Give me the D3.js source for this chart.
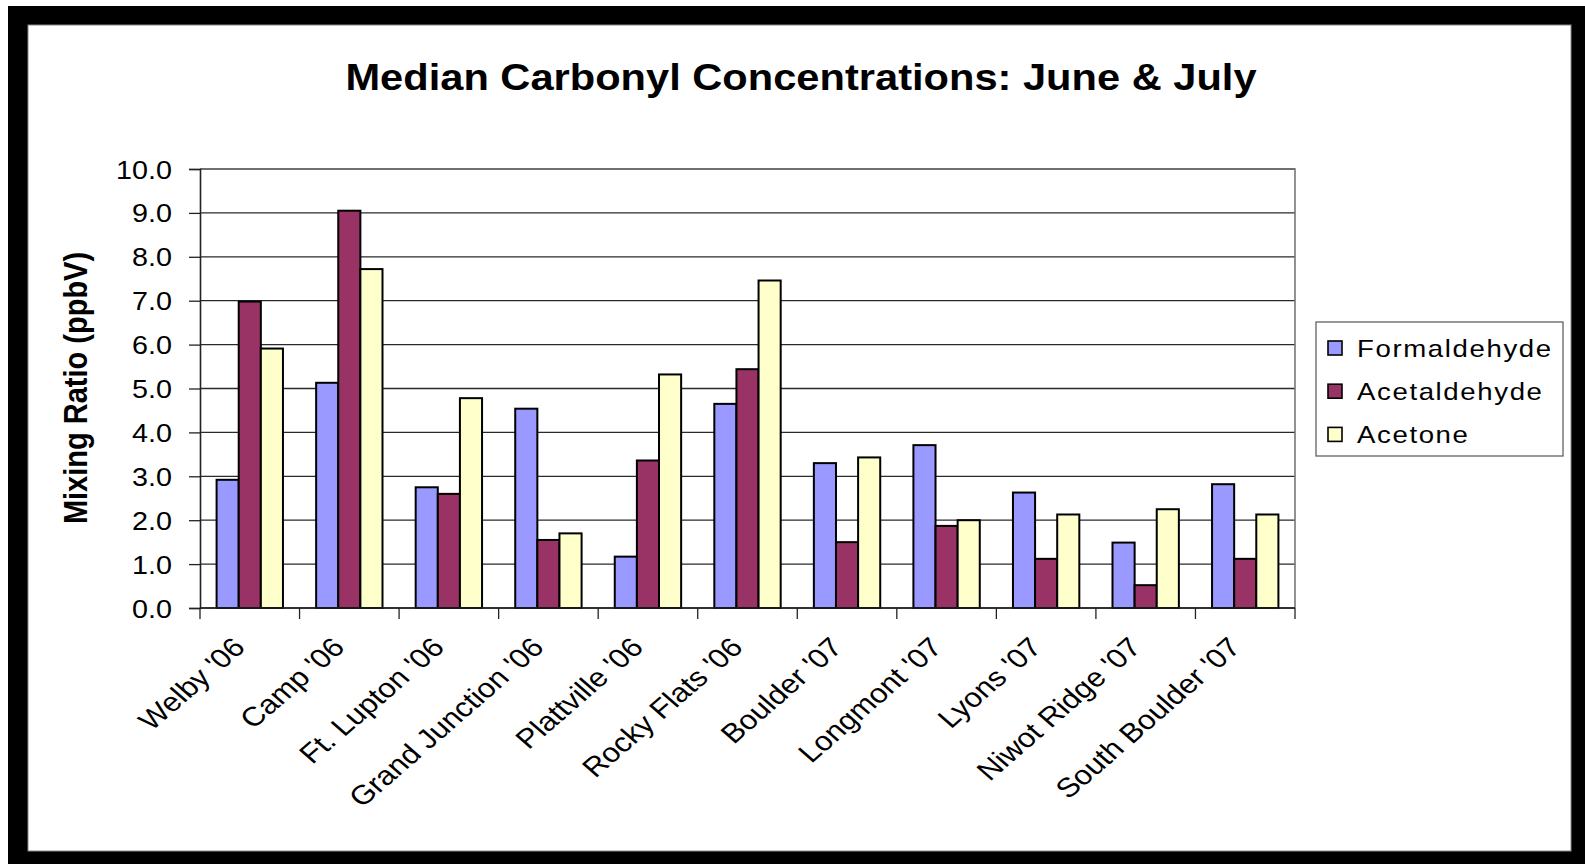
<!DOCTYPE html>
<html>
<head>
<meta charset="utf-8">
<script src="https://cdn.jsdelivr.net/npm/d3@7"></script>
<style>
  html, body { margin: 0; padding: 0; background: #ffffff; }
  svg { display: block; }
  text { font-family: "Liberation Sans", Arial, Helvetica, sans-serif; fill: #000; }
</style>
</head>
<body>
<svg id="chart" width="1585" height="864"></svg>
<script>
// Sampling sites (x categories)
const categories = [
  "Welby '06", "Camp '06", "Ft. Lupton '06", "Grand Junction '06", "Plattville '06",
  "Rocky Flats '06", "Boulder '07", "Longmont '07", "Lyons '07", "Niwot Ridge '07",
  "South Boulder '07"
];

// Median mixing ratios (ppbV) per compound
const formaldehyde = [2.92, 5.13, 2.75, 4.54, 1.17, 4.65, 3.30, 3.71, 2.63, 1.49, 2.82];
const acetaldehyde = [6.98, 9.05, 2.60, 1.55, 3.36, 5.44, 1.50, 1.87, 1.12, 0.52, 1.12];
const acetone      = [5.91, 7.72, 4.78, 1.70, 5.32, 7.46, 3.43, 2.00, 2.13, 2.25, 2.13];

const seriesNames = ["Formaldehyde", "Acetaldehyde", "Acetone"];
const seriesColors = ["#9999ff", "#993366", "#ffffcc"];
const yTicks = [0, 1, 2, 3, 4, 5, 6, 7, 8, 9, 10];

const titleText = "Median Carbonyl Concentrations: June & July";
const yAxisTitle = "Mixing Ratio (ppbV)";

const seriesValues = [formaldehyde, acetaldehyde, acetone];
const rows = categories.map((c, i) => ({
  cat: c,
  vals: seriesNames.map((s, j) => ({ name: s, value: seriesValues[j][i], color: seriesColors[j] }))
}));

// Text in this chart is drawn slightly wide
const SX = 1.15;

const svg = d3.select("#chart");

// Black frame around the chart
svg.append("rect").attr("x", 8).attr("y", 6).attr("width", 1577).attr("height", 858).attr("fill", "#000");
svg.append("rect").attr("x", 28).attr("y", 25).attr("width", 1543).attr("height", 826)
  .attr("fill", "#fff").attr("stroke", "#888").attr("stroke-width", 1);

const plot = { left: 200, right: 1295, top: 169, bottom: 608 };

const x = d3.scaleBand().domain(categories).range([plot.left, plot.right]).paddingInner(0).paddingOuter(0);
const xs = d3.scaleBand().domain(seriesNames).range([0, x.bandwidth()]).paddingInner(0).paddingOuter(0.75);
const y = d3.scaleLinear().domain([0, 10]).range([plot.bottom, plot.top]);

// Horizontal gridlines
svg.append("g").selectAll("line").data(yTicks).join("line")
  .attr("x1", plot.left).attr("x2", plot.right)
  .attr("y1", d => y(d)).attr("y2", d => y(d))
  .attr("stroke", "#2a2a2a").attr("stroke-width", 1.3);

// Plot border on top and right
svg.append("path")
  .attr("d", `M${plot.left},${y(10)}H${plot.right}V${plot.bottom}`)
  .attr("fill", "none").attr("stroke", "#777").attr("stroke-width", 1.6);

// Bars
const groups = svg.append("g").selectAll("g").data(rows).join("g")
  .attr("transform", d => `translate(${x(d.cat)},0)`);
groups.selectAll("rect").data(d => d.vals).join("rect")
  .attr("x", d => xs(d.name))
  .attr("width", xs.bandwidth())
  .attr("y", d => y(d.value))
  .attr("height", d => y(0) - y(d.value))
  .attr("fill", d => d.color)
  .attr("stroke", "#000").attr("stroke-width", 2);

// Y axis
const yAxis = svg.append("g").attr("transform", `translate(${plot.left},0)`)
  .call(d3.axisLeft(y).tickValues(yTicks).tickFormat(d3.format(".1f")).tickSizeOuter(0).tickSize(11));
yAxis.select(".domain").attr("stroke", "#222").attr("stroke-width", 1.6);
yAxis.selectAll(".tick line").attr("stroke", "#222").attr("stroke-width", 1.3);
yAxis.selectAll(".tick text")
  .attr("x", null).attr("dy", null)
  .attr("transform", `translate(-28,9) scale(${SX},1)`)
  .attr("text-anchor", "end")
  .style("font-family", "'Liberation Sans', Arial, sans-serif")
  .style("font-size", "25px").attr("fill", "#000");

// X axis line and boundary ticks
svg.append("line").attr("x1", plot.left).attr("x2", plot.right)
  .attr("y1", plot.bottom).attr("y2", plot.bottom)
  .attr("stroke", "#222").attr("stroke-width", 1.6);
const boundaries = categories.map(c => x(c)).concat([x.range()[1]]);
svg.append("g").selectAll("line").data(boundaries).join("line")
  .attr("x1", d => d).attr("x2", d => d)
  .attr("y1", plot.bottom).attr("y2", plot.bottom + 11)
  .attr("stroke", "#222").attr("stroke-width", 1.3);

// Rotated category labels
svg.append("g").selectAll("text").data(categories).join("text")
  .attr("transform", d => `translate(${x(d) + x.bandwidth() / 2 - 3},${plot.bottom + 41}) scale(${SX},1) rotate(-45)`)
  .attr("text-anchor", "end")
  .style("font-size", "27px")
  .text(d => d);

// Title
svg.append("text")
  .attr("transform", `translate(801,90) scale(1.125,1)`)
  .attr("text-anchor", "middle")
  .style("font-size", "37px").style("font-weight", "bold")
  .text(titleText);

// Y axis title
svg.append("text")
  .attr("transform", `translate(87,388) scale(${SX},1) rotate(-90)`)
  .attr("text-anchor", "middle")
  .style("font-size", "29px").style("font-weight", "bold")
  .text(yAxisTitle);

// Legend
const legend = svg.append("g");
legend.append("rect").attr("x", 1316).attr("y", 322).attr("width", 247).attr("height", 134)
  .attr("fill", "#fff").attr("stroke", "#555").attr("stroke-width", 1.2);
const items = legend.selectAll("g.item").data(seriesNames).join("g")
  .attr("class", "item")
  .attr("transform", (d, i) => `translate(1328,${348 + i * 43.2})`);
items.append("rect").attr("x", 0).attr("y", -7).attr("width", 14).attr("height", 14)
  .attr("fill", (d, i) => seriesColors[i]).attr("stroke", "#000").attr("stroke-width", 1.6);
items.append("text")
  .attr("transform", `translate(29,8.5) scale(${SX},1)`)
  .style("font-size", "24px").style("letter-spacing", "1.4px")
  .text(d => d);
</script>
</body>
</html>
